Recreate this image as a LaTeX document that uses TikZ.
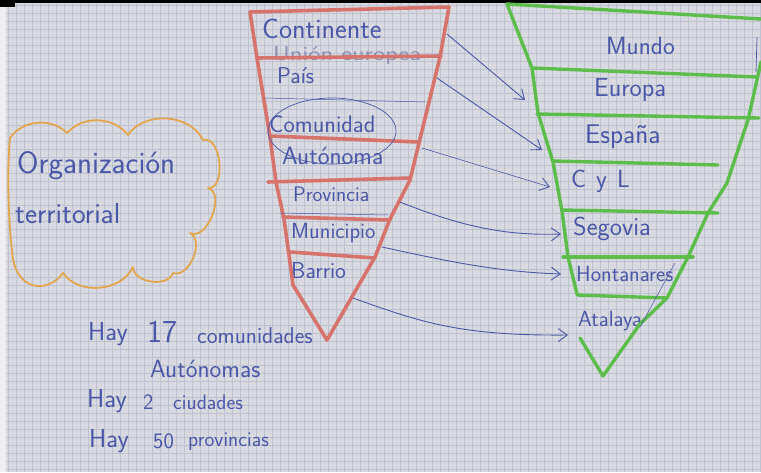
\documentclass[tikz,border=0pt]{standalone}
\usepackage{fontspec}
\usetikzlibrary{arrows.meta}
\definecolor{paper}{HTML}{D9DAE1}
\definecolor{gridc}{HTML}{BEC1CE}
\definecolor{ink}{HTML}{4A57A8}
\definecolor{faintink}{HTML}{8A8FB2}
\definecolor{redm}{HTML}{D6736C}
\definecolor{greenm}{HTML}{5CBD4B}
\definecolor{orangem}{HTML}{E2A54C}
\definecolor{edgec}{HTML}{EEEEF2}
\tikzset{
  lbl/.style={text=ink, font=\sffamily\fontsize{#1}{#1}\selectfont, inner sep=0pt},
  lbl/.default=18,
  redline/.style={draw=redm, line width=3.6pt, line cap=round, line join=round},
  greenline/.style={draw=greenm, line width=3.4pt, line cap=round, line join=round},
  inkline/.style={draw=ink, line width=0.7pt},
  arr/.style={draw=ink, line width=0.9pt, -{Straight Barb[length=9pt,width=13pt,line width=0.9pt]}},
}
\begin{document}
\begin{tikzpicture}[x=1pt,y=-1pt]
\useasboundingbox (0,0) rectangle (761,472);
% paper and grid
\fill[paper] (0,0) rectangle (761,472);
\foreach \i in {0,...,94} {\draw[gridc, line width=0.45pt] ({8+8*\i},0) -- ({8+8*\i},472);}
\foreach \j in {0,...,58} {\draw[gridc, line width=0.45pt] (0,{5+8*\j}) -- (761,{5+8*\j});}
\fill[edgec] (0,0) rectangle (6,472);
\fill[black] (0,0) rectangle (761,3);
\fill[black] (0,0) rectangle (15,7);

% cloud
\draw[orangem, line width=1.8pt, line join=round, line cap=round]
  (10,138) to[bend left=50] (67,133) to[bend left=50] (128,135) to[bend left=60] (203,140)
  to[bend left=100] (208,188) to[bend left=95] (190,233) to[bend left=85] (173,273)
  to[bend left=80] (133,267) to[bend left=60] (63,273)
  .. controls (48,294) and (14,292) .. (12,250)
  .. controls (8,215) and (7,170) .. (10,138);
\coordinate (cloud) at (118,205);
\node[lbl=31, anchor=west] (org) at (17,166) {Organización};
\node[lbl=29, anchor=west] (terr) at (15,214) {territorial};

% red funnel texts
\node[lbl=20, text=faintink, anchor=west] (ue) at (273,56) {\scalebox{1.3}[1]{Unión europea}};
\node[lbl=28, anchor=west] (cont) at (262,29) {Continente};
\node[lbl=23, anchor=west] (pais) at (277,76) {País};
\node[lbl=24, anchor=west] (com) at (269,124) {Comunidad};
\node[lbl=25, anchor=west] (aut) at (282,156) {Autónoma};
\node[lbl=21, anchor=west] (prov) at (293,194) {Provincia};
\node[lbl=22, anchor=west] (mun) at (291,233) {Municipio};
\node[lbl=23, anchor=west] (bar) at (291,271) {Barrio};

% red funnel
\draw[redline] (250,12) -- (449,7) -- (440,57) -- (420,139) -- (410,180) -- (390,219) -- (375,257) -- (327,340)
   -- (293,285) -- (289,255) -- (284,219) -- (276,182) -- (270,137) -- (257,58) -- cycle;
\draw[redline] (257,58) -- (441,56);
\draw[redline] (270,136) -- (419,142);
\draw[redline] (268,182) -- (410,178);
\draw[redline] (283,217) -- (390,220);
\draw[redline] (290,252) -- (375,258);
\draw[inkline, line width=0.5pt] (265,98) -- (425,102);
\draw[inkline, line width=0.5pt] (280,213) -- (388,215);
\draw[inkline, line width=0.7pt] (332,131) ellipse [x radius=64, y radius=33];

% green funnel texts
\node[lbl=25, anchor=west] (mundo) at (606,46) {Mundo};
\node[lbl=26, anchor=west] (eur) at (594,90) {Europa};
\node[lbl=27, anchor=west] (esp) at (585,137) {España};
\node[lbl=25, anchor=west] (cyl) at (571,181) {C\hspace{10pt}y\hspace{10pt}L};
\node[lbl=26, anchor=west] (seg) at (573,229) {Segovia};
\node[lbl=22, anchor=west] (hont) at (576,274) {Hontanares};
\node[lbl=22, anchor=west] (atal) at (578,321) {Atalaya};

% green funnel
\draw[greenline] (507,4) -- (761,19);
\draw[greenline] (507,4) -- (532,68) -- (538,113) -- (553,162) -- (562,211) -- (568,257) -- (577,294);
\draw[greenline] (580,338) -- (603,376) -- (640,324) -- (667,298) -- (688,257) -- (708,213) -- (727,183) -- (748,120) -- (761,62);
\draw[greenline] (532,68) -- (757,77);
\draw[greenline] (537,114) -- (759,118);
\draw[greenline] (553,161) -- (718,165);
\draw[greenline] (562,210) -- (718,213);
\draw[greenline] (563,257) -- (693,257);
\draw[greenline] (577,295) -- (667,298);
\draw[inkline] (757,37) -- (756,72);
\draw[inkline, line width=0.5pt] (675,263) -- (640,327);

% connectors
\coordinate (r1) at (447,34);  \coordinate (g1) at (525,100);
\coordinate (r2) at (437,78);  \coordinate (g2) at (542,150);
\coordinate (r3) at (422,148); \coordinate (g3) at (550,187);
\coordinate (r4) at (400,202); \coordinate (g4) at (561,234);
\coordinate (r5) at (382,247); \coordinate (g5) at (561,274);
\coordinate (r6) at (353,298); \coordinate (g6) at (568,335);
\draw[arr] (r1) -- (g1);
\draw[arr] (r2) -- (g2);
\draw[arr, line width=0.6pt] (r3) -- (g3);
\draw[arr] (r4) .. controls (460,226) and (505,236) .. (g4);
\draw[arr] (r5) .. controls (450,262) and (500,272) .. (g5);
\draw[arr] (r6) .. controls (420,322) and (460,336) .. (g6);

% bottom notes
\node[lbl=26, anchor=west] (n1a) at (88,334) {Hay};
\node[lbl=32, anchor=west] (n1b) at (147,332) {17};
\node[lbl=23, anchor=west] (n1c) at (197,336) {comunidades};
\node[lbl=25, anchor=west] (n2) at (150,369) {Autónomas};
\node[lbl=26, anchor=west] (n3a) at (87,401) {Hay};
\node[lbl=22, anchor=west] (n3b) at (143,402) {2};
\node[lbl=21, anchor=west] (n3c) at (173,402) {ciudades};
\node[lbl=26, anchor=west] (n4a) at (89,441) {Hay};
\node[lbl=22, anchor=west] (n4b) at (153,441) {50};
\node[lbl=21, anchor=west] (n4c) at (188,442) {provincias};
\end{tikzpicture}
\end{document}
